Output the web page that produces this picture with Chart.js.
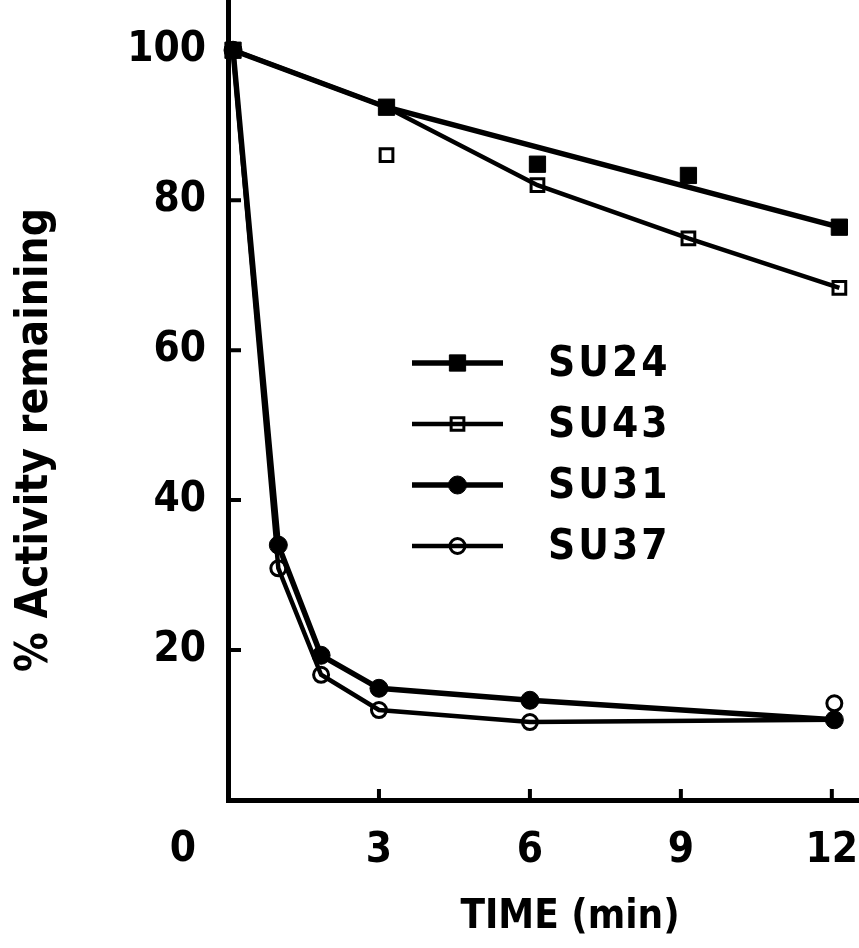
<!DOCTYPE html>
<html>
<head>
<meta charset="utf-8">
<script src="https://cdn.jsdelivr.net/npm/chart.js@4.4.1/dist/chart.umd.min.js"></script>
<style>
  body { margin: 0; background: #fff; }
  #wrap { width: 859px; height: 948px; }
</style>
</head>
<body>
<div id="wrap"><canvas id="atividade" width="859" height="948"></canvas></div>
<script>
// time points (min)
const tempoSU24 = [0.1, 3.15, 6.15, 9.15, 12.15];
const tempoSU31 = [0.1, 1.0, 1.85, 3.0, 6.0, 12.05];

// % activity remaining at each point
const su24 = [100, 92.4, 84.8, 83.3, 76.4];
const su43 = [100, 86.0, 82.0, 74.9, 68.3];
const su31 = [100, 34.0, 19.3, 14.9, 13.3, 10.7];
const su37 = [100, 30.9, 16.7, 12.0, 10.4, 12.9];

// hand-drawn curves through the points
const curvaSU24x = [0.1, 3.15, 12.15];
const curvaSU24y = [100, 92.4, 76.4];
const curvaSU43x = [0.1, 3.15, 6.15, 9.15, 12.15];
const curvaSU43y = [100, 92.4, 82.0, 74.9, 68.3];
const curvaSU31x = [0.1, 1.0, 1.85, 3.0, 6.0, 12.05];
const curvaSU31y = [100, 34.0, 19.3, 14.9, 13.3, 10.7];
const curvaSU37x = [0.1, 1.0, 1.85, 3.0, 6.0, 12.05];
const curvaSU37y = [100, 30.9, 16.7, 12.0, 10.4, 10.7];

const ticksX = [3, 6, 9, 12];
const ticksY = [20, 40, 60, 80, 100];

const fonte = "'DejaVu Sans Condensed', 'DejaVu Sans', sans-serif";

function pares(xs, ys) {
  return xs.map((x, i) => ({ x: x, y: ys[i] }));
}

function pontos(label, xs, ys, estilo, raio, cheio) {
  return {
    label: label,
    data: pares(xs, ys),
    showLine: false,
    pointStyle: estilo,
    pointRadius: raio,
    pointHoverRadius: raio,
    pointBorderWidth: cheio ? 1 : 3,
    pointBorderColor: "#000",
    pointBackgroundColor: cheio ? "#000" : "rgba(0,0,0,0)",
    order: 0,
  };
}

function curva(xs, ys, largura) {
  return {
    label: "",
    curva: true,
    data: pares(xs, ys),
    showLine: true,
    borderColor: "#000",
    borderWidth: largura,
    pointRadius: 0,
    tension: 0,
    order: 1,
  };
}

function desenhaMarcador(ctx, ds, x, y) {
  const r = ds.pointRadius;
  ctx.save();
  ctx.lineWidth = ds.pointBorderWidth;
  ctx.strokeStyle = ds.pointBorderColor;
  ctx.fillStyle = ds.pointBackgroundColor;
  ctx.beginPath();
  if (ds.pointStyle === "rect") {
    const s = r * Math.SQRT1_2;
    ctx.rect(x - s, y - s, 2 * s, 2 * s);
  } else {
    ctx.arc(x, y, r, 0, Math.PI * 2);
  }
  ctx.fill();
  ctx.stroke();
  ctx.restore();
}

// legend drawn inside the plot, with the curve sample and marker
const legendaInterna = {
  id: "legendaInterna",
  afterDatasetsDraw(chart, args, opts) {
    const ctx = chart.ctx;
    const series = chart.data.datasets.filter((d) => !d.curva);
    const curvas = chart.data.datasets.filter((d) => d.curva);
    series.forEach((ds, i) => {
      const y = opts.y + i * opts.passo;
      ctx.save();
      ctx.strokeStyle = "#000";
      ctx.lineWidth = curvas[i].borderWidth;
      ctx.beginPath();
      ctx.moveTo(opts.x, y);
      ctx.lineTo(opts.x + opts.largura, y);
      ctx.stroke();
      ctx.restore();
      desenhaMarcador(ctx, ds, opts.x + opts.largura / 2, y);
      ctx.save();
      ctx.fillStyle = "#000";
      ctx.font = "bold 42px " + fonte;
      ctx.letterSpacing = "3px";
      ctx.textBaseline = "middle";
      ctx.fillText(ds.label, opts.texto, y + 2);
      ctx.restore();
    });
  },
};

// tick marks point inward, axis titles, and the origin "0" left of the corner
const marcasInternas = {
  id: "marcasInternas",
  afterDraw(chart) {
    const ctx = chart.ctx;
    const area = chart.chartArea;
    const sx = chart.scales.x;
    const sy = chart.scales.y;
    ctx.save();
    ctx.strokeStyle = "#000";
    ctx.lineWidth = 4;
    ctx.beginPath();
    ticksY.forEach((v) => {
      const py = sy.getPixelForValue(v);
      ctx.moveTo(area.left, py);
      ctx.lineTo(area.left + 13, py);
    });
    ticksX.forEach((v) => {
      const px = sx.getPixelForValue(v);
      ctx.moveTo(px, area.bottom);
      ctx.lineTo(px, area.bottom - 11);
    });
    ctx.stroke();
    ctx.fillStyle = "#000";
    ctx.font = "bold 42px " + fonte;
    ctx.textAlign = "center";
    ctx.textBaseline = "middle";
    ctx.fillText("0", sx.getPixelForValue(0) - 45, 850);

    ctx.font = "bold 40px " + fonte;
    ctx.fillText("TIME (min)", 570, 918);
    ctx.font = "bold 44px " + fonte;
    ctx.translate(36, 440);
    ctx.rotate(-Math.PI / 2);
    ctx.fillText("% Activity remaining", 0, 0);
    ctx.restore();
  },
};

new Chart(document.getElementById("atividade"), {
  type: "scatter",
  data: {
    datasets: [
      pontos("SU24", tempoSU24, su24, "rect", 11.5, true),
      pontos("SU43", tempoSU24, su43, "rect", 9, false),
      pontos("SU31", tempoSU31, su31, "circle", 9, true),
      pontos("SU37", tempoSU31, su37, "circle", 7.5, false),
      curva(curvaSU24x, curvaSU24y, 5.5),
      curva(curvaSU43x, curvaSU43y, 4.5),
      curva(curvaSU31x, curvaSU31y, 5.5),
      curva(curvaSU37x, curvaSU37y, 4.5),
    ],
  },
  options: {
    responsive: false,
    animation: false,
    clip: false,
    layout: { padding: 0, autoPadding: false },
    plugins: {
      legend: { display: false },
      tooltip: { enabled: false },
      legendaInterna: { x: 412, y: 363, passo: 61, largura: 91, texto: 548 },
    },
    scales: {
      x: {
        type: "linear",
        min: 0,
        max: 12.54,
        grid: { display: false, drawTicks: false, tickLength: 0 },
        border: { display: true, color: "#000", width: 5 },
        ticks: {
          stepSize: 3,
          includeBounds: false,
          padding: 26,
          color: "#000",
          font: { family: fonte, size: 42, weight: "bold" },
          callback: (v) => (v === 0 ? "" : v),
        },
        afterFit(scale) {
          scale.height = 148;
          scale.paddingLeft = 0;
          scale.paddingRight = 0;
        },
      },
      y: {
        min: 0,
        max: 106.7,
        grid: { display: false, drawTicks: false, tickLength: 0 },
        border: { display: true, color: "#000", width: 5 },
        ticks: {
          stepSize: 20,
          includeBounds: false,
          padding: 22,
          color: "#000",
          font: { family: fonte, size: 42, weight: "bold" },
          callback: (v) => (v === 0 ? "" : v),
        },
        afterFit(scale) {
          scale.width = 228;
          scale.paddingTop = 0;
          scale.paddingBottom = 0;
        },
      },
    },
  },
  plugins: [legendaInterna, marcasInternas],
});
</script>
</body>
</html>
